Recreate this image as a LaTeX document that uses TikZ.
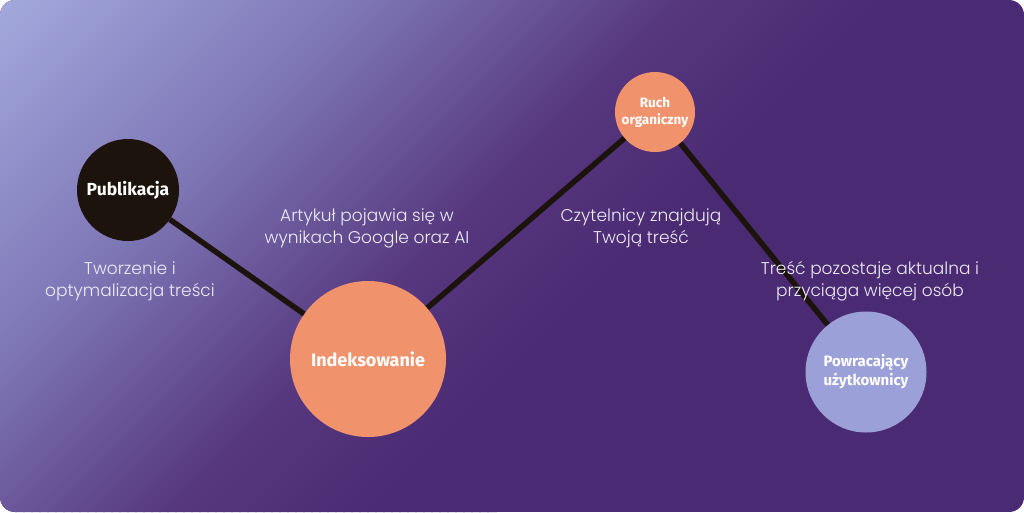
\documentclass[tikz,border=0pt]{standalone}
\usepackage{fontspec}
\usepackage{tikz}
\setmainfont{Fira Sans}
\newfontfamily\labelfont{Poppins Light}

\definecolor{InkBlack}{HTML}{1C140C}
\definecolor{Peach}{HTML}{F0936D}
\definecolor{Lavender}{HTML}{9BA1D8}
\definecolor{NightPurple}{HTML}{4A2A72}
\definecolor{LabelWhite}{HTML}{EEECF6}

\tikzset{
  stage/.style={circle, inner sep=0pt, text=white, align=center,
    font=\bfseries\fontsize{17.5}{19}\selectfont},
  link/.style={InkBlack, line width=5.5pt},
  caption/.style={text=LabelWhite, align=center,
    font=\labelfont\fontsize{17}{22}\selectfont}
}

\begin{document}
\begin{tikzpicture}[x=1pt, y=-1pt]
  \useasboundingbox (0, 0) rectangle (1024, 512);

  % card with diagonal gradient
  \begin{scope}
    \clip[rounded corners=15pt] (0, 0) rectangle (1024, 512);
    \fill[NightPurple] (0, 0) rectangle (1024, 512);
    \foreach \s in {0, 8, ..., 1000} {
      \pgfmathsetmacro\partA{min(\s, 350)/350}
      \pgfmathsetmacro\partB{max(0, min(\s-350, 330))/330}
      \pgfmathsetmacro\partC{max(0, min(\s-680, 220))/220}
      \pgfmathtruncatemacro\bandR{163-35*\partA-41*\partB-13*\partC}
      \pgfmathtruncatemacro\bandG{169-48*\partA-65*\partB-14*\partC}
      \pgfmathtruncatemacro\bandB{221-37*\partA-57*\partB-13*\partC}
      \definecolor{band}{RGB}{\bandR, \bandG, \bandB}
      \fill[band] (\s-1, 0) -- (\s+9, 0) -- (\s+9-512, 512) -- (\s-1-512, 512) -- cycle;
    }
  \end{scope}

  \node[stage, fill=InkBlack, minimum size=102pt] (publikacja) at (128, 190) {Publikacja};
  \node[stage, fill=Peach, minimum size=156pt, font=\bfseries\fontsize{18}{20}\selectfont] (indeksowanie) at (368, 359) {Indeksowanie};
  \node[stage, fill=Peach, minimum size=80pt, font=\bfseries\fontsize{13.5}{17}\selectfont] (ruch) at (655, 112) {Ruch\\organiczny};
  \node[stage, fill=Lavender, minimum size=121pt, font=\bfseries\fontsize{15}{19}\selectfont] (powracajacy) at (866, 372) {Powracający\\użytkownicy};

  \draw[link] (publikacja) -- (indeksowanie);
  \draw[link] (indeksowanie) -- (ruch);
  \draw[link] (ruch) -- (powracajacy);

  \node[caption] (tworzenie) at (130, 281) {Tworzenie i\\optymalizacja treści};
  \node[caption] (artykul) at (367, 228) {Artykuł pojawia się w\\wynikach Google oraz AI};
  \node[caption] (czytelnicy) at (641, 228) {Czytelnicy znajdują\\Twoją treść};
  \node[caption] (aktualna) at (870, 281) {Treść pozostaje aktualna i\\przyciąga więcej osób};
\end{tikzpicture}
\end{document}
